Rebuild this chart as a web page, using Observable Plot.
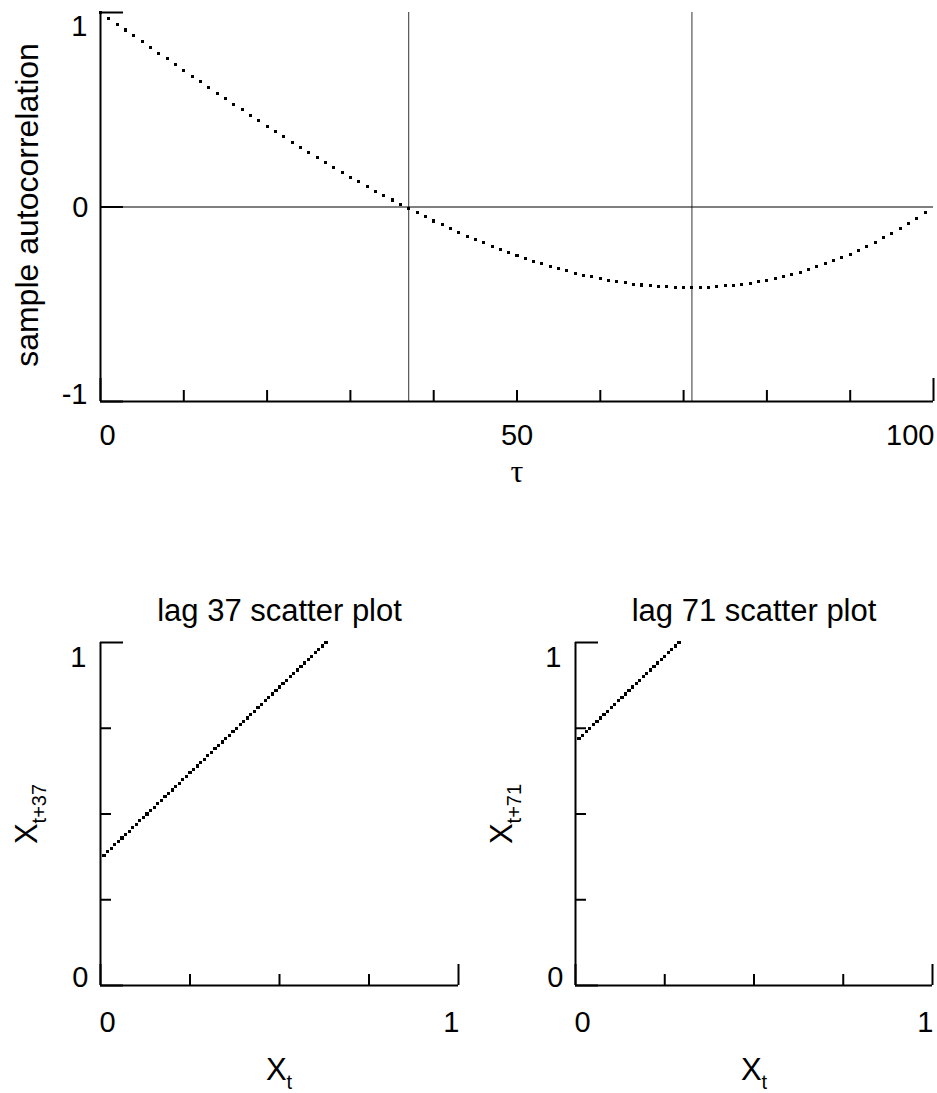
<!DOCTYPE html>
<html><head><meta charset="utf-8">
<script src="https://cdn.jsdelivr.net/npm/d3@7"></script>
<script src="https://cdn.jsdelivr.net/npm/@observablehq/plot@0.6"></script>
<style>
html,body{margin:0;padding:0;background:#fff;}
#root{position:relative;width:937px;height:1093px;overflow:hidden;font-family:"Liberation Sans",Arial,sans-serif;}
#root svg{position:absolute;}
</style></head><body><div id="root"></div>
<script>
// sample autocorrelation, lag 0..99
const acf = [1.000,0.970,0.940,0.910,0.880,0.850,0.820,0.791,0.761,0.731,
0.702,0.673,0.643,0.614,0.585,0.557,0.528,0.500,0.472,0.444,
0.416,0.389,0.361,0.334,0.308,0.281,0.255,0.229,0.204,0.179,
0.154,0.130,0.106,0.082,0.059,0.036,0.013,-0.009,-0.030,-0.051,
-0.072,-0.092,-0.112,-0.131,-0.150,-0.168,-0.185,-0.202,-0.219,-0.235,
-0.250,-0.265,-0.279,-0.292,-0.305,-0.317,-0.329,-0.340,-0.350,-0.359,
-0.368,-0.376,-0.383,-0.390,-0.396,-0.401,-0.405,-0.408,-0.411,-0.413,
-0.414,-0.414,-0.414,-0.412,-0.410,-0.406,-0.402,-0.397,-0.391,-0.384,
-0.376,-0.367,-0.357,-0.346,-0.335,-0.322,-0.308,-0.293,-0.277,-0.260,
-0.242,-0.223,-0.203,-0.181,-0.159,-0.135,-0.111,-0.085,-0.058,-0.029];

// the series X_t
const series = [0.01,0.02,0.03,0.04,0.05,0.06,0.07,0.08,0.09,0.10,
0.11,0.12,0.13,0.14,0.15,0.16,0.17,0.18,0.19,0.20,
0.21,0.22,0.23,0.24,0.25,0.26,0.27,0.28,0.29,0.30,
0.31,0.32,0.33,0.34,0.35,0.36,0.37,0.38,0.39,0.40,
0.41,0.42,0.43,0.44,0.45,0.46,0.47,0.48,0.49,0.50,
0.51,0.52,0.53,0.54,0.55,0.56,0.57,0.58,0.59,0.60,
0.61,0.62,0.63,0.64,0.65,0.66,0.67,0.68,0.69,0.70,
0.71,0.72,0.73,0.74,0.75,0.76,0.77,0.78,0.79,0.80,
0.81,0.82,0.83,0.84,0.85,0.86,0.87,0.88,0.89,0.90,
0.91,0.92,0.93,0.94,0.95,0.96,0.97,0.98,0.99,1.00];

const markedLags = [37, 71];
const acfMinorTicks = [10, 20, 30, 40, 50, 60, 70, 80, 90];
const acfMajorTicksX = [0, 100];
const acfTicksY = [-1, 0, 1];
const acfLabelsX = [0, 50, 100];
const scatterMinorTicks = [0.25, 0.5, 0.75];
const scatterMajorTicks = [0, 1];

const FONT = '"Liberation Sans", Arial, sans-serif';
const TICKFS = 29;
const root = document.getElementById("root");

// ---------- top panel ----------
{
  const W = 937, H = 490, mL = 100, mR = 4, mT = 12, mB = 89;
  const pw = W - mL - mR, ph = H - mT - mB;
  const svg = Plot.plot({
    width: W, height: H, marginLeft: mL, marginRight: mR, marginTop: mT, marginBottom: mB,
    x: {domain: [0, 100], axis: null},
    y: {domain: [-1, 1], axis: null},
    style: {fontFamily: FONT, background: "transparent", overflow: "visible", color: "#000"},
    marks: [
      Plot.ruleX(markedLags, {x: d => d, stroke: "#333", strokeWidth: 1}),
      Plot.ruleY([0], {y: d => d, stroke: "#000", strokeWidth: 1}),
      Plot.ruleX([0], {x: d => d, stroke: "#000", strokeWidth: 2}),
      Plot.ruleY([-1], {y: d => d, stroke: "#000", strokeWidth: 2}),
      Plot.tickY(acfTicksY, {y: d => d, stroke: "#000", strokeWidth: 2, insetRight: pw - 23}),
      Plot.tickX(acfMinorTicks, {x: d => d, stroke: "#000", strokeWidth: 2, insetTop: ph - 11}),
      Plot.tickX(acfMajorTicksX, {x: d => d, stroke: "#000", strokeWidth: 2, insetTop: ph - 23}),
      Plot.dot(acf, {x: (d, i) => i, y: d => d, symbol: "square", r: 1.7, fill: "#000", stroke: null, shapeRendering: "crispEdges"}),
      // y tick labels
      Plot.text([1], {frameAnchor: "left", y: d => d, text: d => String(d), textAnchor: "end", lineAnchor: "top", dx: -13, dy: 3, fontSize: TICKFS, fill: "#000"}),
      Plot.text([0], {frameAnchor: "left", y: d => d, text: d => String(d), textAnchor: "end", lineAnchor: "middle", dx: -12, dy: 1, fontSize: TICKFS, fill: "#000"}),
      Plot.text([-1], {frameAnchor: "left", y: d => d, text: d => String(d), textAnchor: "end", lineAnchor: "bottom", dx: -13, dy: 2, fontSize: TICKFS, fill: "#000"}),
      // x tick labels
      Plot.text([acfLabelsX[0]], {frameAnchor: "bottom", x: d => d, text: d => String(d), textAnchor: "start", lineAnchor: "middle", dx: -1, dy: 34, fontSize: TICKFS, fill: "#000"}),
      Plot.text([acfLabelsX[1]], {frameAnchor: "bottom", x: d => d, text: d => String(d), textAnchor: "middle", lineAnchor: "middle", dy: 34, fontSize: TICKFS, fill: "#000"}),
      Plot.text([acfLabelsX[2]], {frameAnchor: "bottom", x: d => d, text: d => String(d), textAnchor: "end", lineAnchor: "middle", dx: 1, dy: 34, fontSize: TICKFS, fill: "#000"})
    ]
  });
  svg.style.left = "0px"; svg.style.top = "0px";
  root.appendChild(svg);
}

// ---------- scatter panels ----------
function scatterPanel(lag, left, W, mL, pw) {
  const H = 533, mT = 82, mB = 108, mR = W - mL - pw;
  const ph = H - mT - mB;
  const pairs = series.slice(0, series.length - lag).map((v, i) => ({x: v, y: series[i + lag]}));
  const svg = Plot.plot({
    width: W, height: H, marginLeft: mL, marginRight: mR, marginTop: mT, marginBottom: mB,
    x: {domain: [0, 1], axis: null},
    y: {domain: [0, 1], axis: null},
    style: {fontFamily: FONT, background: "transparent", overflow: "visible", color: "#000"},
    marks: [
      Plot.ruleX([0], {x: d => d, stroke: "#000", strokeWidth: 2}),
      Plot.ruleY([0], {y: d => d, stroke: "#000", strokeWidth: 2}),
      Plot.tickY(scatterMajorTicks, {y: d => d, stroke: "#000", strokeWidth: 2, insetRight: pw - 23}),
      Plot.tickY(scatterMinorTicks, {y: d => d, stroke: "#000", strokeWidth: 2, insetRight: pw - 11}),
      Plot.tickX(scatterMinorTicks, {x: d => d, stroke: "#000", strokeWidth: 2, insetTop: ph - 11}),
      Plot.tickX(scatterMajorTicks, {x: d => d, stroke: "#000", strokeWidth: 2, insetTop: ph - 21}),
      Plot.dot(pairs, {x: "x", y: "y", symbol: "square", r: 1.8, fill: "#000", stroke: null, shapeRendering: "crispEdges"}),
      Plot.text([`lag ${lag} scatter plot`], {frameAnchor: "top", text: d => d, lineAnchor: "bottom", dy: -22, fontSize: 31, fill: "#000"}),
      Plot.text([1], {frameAnchor: "left", y: d => d, text: d => String(d), textAnchor: "end", lineAnchor: "top", dx: -14, dy: 4, fontSize: TICKFS, fill: "#000"}),
      Plot.text([0], {frameAnchor: "left", y: d => d, text: d => String(d), textAnchor: "end", lineAnchor: "bottom", dx: -12, dy: 1, fontSize: TICKFS, fill: "#000"}),
      Plot.text([0], {frameAnchor: "bottom", x: d => d, text: d => String(d), textAnchor: "start", lineAnchor: "middle", dx: -1, dy: 37, fontSize: TICKFS, fill: "#000"}),
      Plot.text([1], {frameAnchor: "bottom", x: d => d, text: d => String(d), textAnchor: "end", lineAnchor: "middle", dx: 1, dy: 37, fontSize: TICKFS, fill: "#000"})
    ]
  });
  svg.style.left = left + "px"; svg.style.top = "560px";
  root.appendChild(svg);
}
scatterPanel(markedLags[0], 0, 470, 100, 358);
scatterPanel(markedLags[1], 470, 467, 105, 357);

// ---------- axis titles ----------
const ov = d3.select(root).append("svg")
  .attr("width", 937).attr("height", 1093)
  .style("left", "0px").style("top", "0px")
  .attr("font-family", FONT).attr("fill", "#000");

ov.append("text").attr("transform", "translate(38,205) rotate(-90)")
  .attr("text-anchor", "middle").attr("font-size", 32).text("sample autocorrelation");
ov.append("text").attr("x", 517).attr("y", 482).attr("text-anchor", "middle")
  .attr("font-family", '"Liberation Serif", serif').attr("font-size", 32).text("τ");

function subLabel(g, main, sub) {
  const t = g.append("text").attr("text-anchor", "middle").attr("font-size", 31);
  t.append("tspan").text(main);
  t.append("tspan").attr("dy", 9).attr("font-size", 20).text(sub);
  return t;
}
subLabel(ov, "X", "t").attr("x", 279).attr("y", 1080);
subLabel(ov, "X", "t").attr("x", 754).attr("y", 1080);
subLabel(ov, "X", "t+" + markedLags[0]).attr("transform", "translate(37,814) rotate(-90)");
subLabel(ov, "X", "t+" + markedLags[1]).attr("transform", "translate(512,814) rotate(-90)");
</script></body></html>
